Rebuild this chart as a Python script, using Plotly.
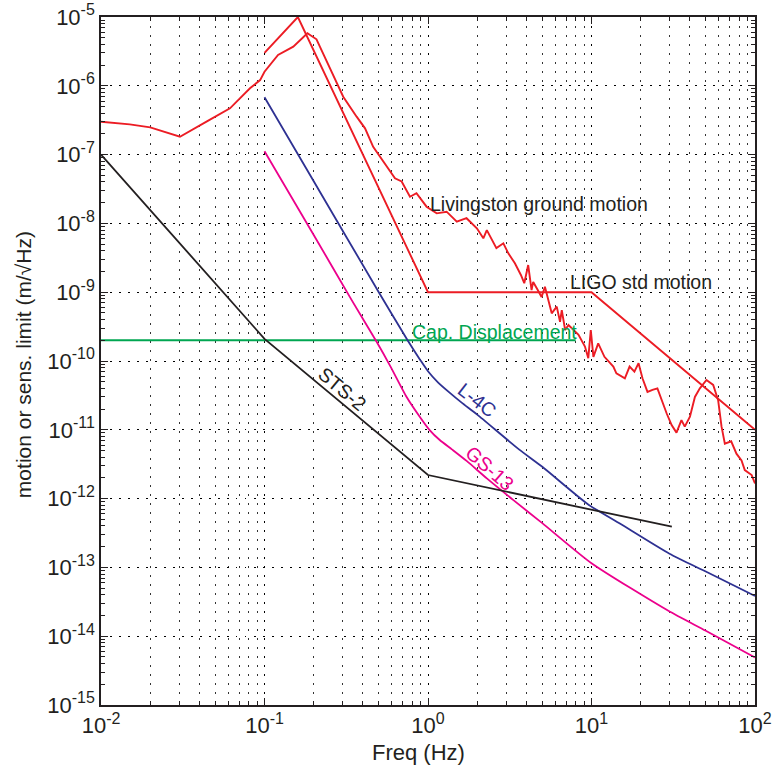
import math
import plotly.graph_objects as go

# ---------------- data ----------------
liv_f = [0.01, 0.015, 0.02, 0.0304, 0.045, 0.0615, 0.0815, 0.094, 0.1, 0.121, 0.150, 0.183,
         0.208, 0.223, 0.252, 0.303, 0.366, 0.412, 0.462, 0.534, 0.628, 0.69, 0.776, 0.85,
         0.98, 1.13, 1.30, 1.50, 1.72, 1.99, 2.18, 2.29, 2.46, 2.62, 2.89, 3.10, 3.40, 3.70,
         3.88, 4.10, 4.30, 4.40, 4.70, 4.95, 5.19, 5.71, 6.13, 6.42, 6.58, 6.90, 7.23, 7.76,
         8.33, 9.12, 9.56, 9.90, 10.27, 10.99, 12.0, 13.6, 14.2, 16.0, 17.1, 18.3, 19.4, 20.5,
         22.0, 23.6, 25.3, 28.8, 30.9, 33.1, 35.5, 37.2, 40.0, 42.9, 46.0, 50.5, 55.5, 59.5,
         62.4, 65.4, 71.5, 77.0, 82.7, 86.6, 95.4, 100.0]
liv_v = [3.0e-7, 2.75e-7, 2.49e-7, 1.82e-7, 3.09e-7, 4.71e-7, 9.2e-7, 1.21e-6, 1.60e-6, 2.81e-6,
         3.70e-6, 5.79e-6, 4.74e-6, 3.31e-6, 1.79e-6, 6.95e-7, 3.56e-7, 2.41e-7, 1.30e-7, 7.89e-8,
         4.52e-8, 4.07e-8, 2.44e-8, 2.74e-8, 1.75e-8, 1.40e-8, 1.48e-8, 1.06e-8, 1.19e-8, 8.5e-9,
         6.07e-9, 8.0e-9, 5.75e-9, 4.37e-9, 5.13e-9, 3.67e-9, 2.63e-9, 1.78e-9, 1.35e-9, 2.48e-9,
         1.07e-9, 1.41e-9, 1.07e-9, 8.5e-10, 1.20e-9, 4.93e-10, 6.17e-10, 3.72e-10, 5.5e-10,
         2.82e-10, 3.33e-10, 2.82e-10, 2.40e-10, 1.62e-10, 1.10e-10, 2.82e-10, 1.15e-10, 1.80e-10,
         1.15e-10, 8.3e-11, 6.6e-11, 5.6e-11, 8.3e-11, 7.0e-11, 9.3e-11, 5.6e-11, 3.55e-11,
         3.8e-11, 4.0e-11, 1.74e-11, 1.17e-11, 9.1e-12, 1.38e-11, 1.11e-11, 1.55e-11, 3.0e-11,
         4.0e-11, 5.3e-11, 4.5e-11, 2.7e-11, 1.12e-11, 6.3e-12, 6.8e-12, 4.5e-12, 3.6e-12,
         2.6e-12, 2.2e-12, 1.66e-12]

ligo_f = [0.1, 0.16, 1.0, 10.0, 100.0]
ligo_v = [3.0e-6, 1.0e-5, 1.0e-9, 1.0e-9, 1.0e-11]

l4c_f = [0.1, 0.2, 0.5, 0.75, 0.9, 1.0, 1.15, 1.35, 1.6, 2.0, 3.6, 5.0, 9.5, 15.0, 30.0, 50.0, 100.0]
l4c_v = [6.8e-7, 4.1e-8, 1.0e-9, 2.0e-10, 1.02e-10, 7.1e-11, 4.9e-11, 3.5e-11, 2.5e-11,
         1.66e-11, 5.2e-12, 2.9e-12, 8.3e-13, 4.3e-13, 1.58e-13, 8.7e-14, 3.85e-14]

gs13_f = [0.1, 0.2, 0.34, 0.485, 0.59, 0.74, 0.89, 1.02, 1.18, 1.4, 1.73, 2.3, 3.33, 5.0, 10.0,
          29.5, 50.0, 100.0]
gs13_v = [1.12e-7, 6.8e-9, 7.8e-10, 1.9e-10, 8.3e-11, 3.0e-11, 1.55e-11, 1.0e-11, 7.1e-12,
          5.2e-12, 3.5e-12, 1.95e-12, 9.5e-13, 4.4e-13, 1.15e-13, 2.34e-14, 1.2e-14, 4.9e-15]

sts2_f = [0.01, 0.1, 1.0, 31.0]
sts2_v = [1.0e-7, 2.1e-10, 2.2e-12, 3.9e-13]

cap_f = [0.01, 8.0]
cap_v = [2.0e-10, 2.0e-10]

x_tickvals = [1e-2, 1e-1, 1e0, 1e1, 1e2]
x_exponents = ["-2", "-1", "0", "1", "2"]
y_tickvals = [1e-15, 1e-14, 1e-13, 1e-12, 1e-11, 1e-10, 1e-9, 1e-8, 1e-7, 1e-6, 1e-5]
y_exponents = ["-15", "-14", "-13", "-12", "-11", "-10", "-9", "-8", "-7", "-6", "-5"]


def power_label(e):
    return "10<sup><span style='font-size:16px'>" + e + "</span></sup>"


x_ticktext = [power_label(e) for e in x_exponents]
y_ticktext = [power_label(e) for e in y_exponents]

# ---------------- styling ----------------
RED = "#ec1c24"
NAVY = "#2e3192"
MAGENTA = "#ec008c"
GREEN = "#00a651"
BLACK = "#231f20"
FONT = "Liberation Sans, Arial, Helvetica, sans-serif"
GRID_DASH = "1.5px,7.5px"

fig = go.Figure()
fig.add_trace(go.Scatter(x=liv_f, y=liv_v, mode="lines", line=dict(color=RED, width=1.9)))
fig.add_trace(go.Scatter(x=ligo_f, y=ligo_v, mode="lines", line=dict(color=RED, width=1.9)))
fig.add_trace(go.Scatter(x=cap_f, y=cap_v, mode="lines", line=dict(color=GREEN, width=1.9)))
fig.add_trace(go.Scatter(x=l4c_f, y=l4c_v, mode="lines",
                         line=dict(color=NAVY, width=1.8, shape="spline", smoothing=0.6)))
fig.add_trace(go.Scatter(x=gs13_f, y=gs13_v, mode="lines",
                         line=dict(color=MAGENTA, width=1.8, shape="spline", smoothing=0.6)))
fig.add_trace(go.Scatter(x=sts2_f, y=sts2_v, mode="lines", line=dict(color=BLACK, width=1.8)))

# minor tick positions (2..9 within each decade)
x_minor = [m * 10 ** d for d in range(-2, 2) for m in range(2, 10)]
y_minor = [m * 10 ** d for d in range(-15, -5) for m in range(2, 10)]

axis_common = dict(
    type="log", automargin=False,
    showline=True, linecolor=BLACK, linewidth=1.5, mirror="ticks",
    ticks="inside", ticklen=7, tickwidth=1, tickcolor=BLACK,
    showgrid=True, gridcolor="#000000", gridwidth=1, griddash=GRID_DASH,
    zeroline=False,
    tickfont=dict(family=FONT, size=22, color=BLACK),
    tickmode="array",
)

fig.update_xaxes(
    **axis_common,
    range=[-2, 2],
    tickvals=x_tickvals, ticktext=x_ticktext,
    minor=dict(tickmode="array", tickvals=x_minor, ticks="inside", ticklen=4,
               tickcolor=BLACK, showgrid=True, gridcolor="#333333", griddash=GRID_DASH,
               gridwidth=1),
)
fig.update_yaxes(
    **axis_common,
    range=[-15, -5],
    tickvals=y_tickvals, ticktext=y_ticktext,
    minor=dict(tickmode="array", tickvals=y_minor, ticks="inside", ticklen=4,
               tickcolor=BLACK, showgrid=False),
)

ann_font = dict(family=FONT, size=19.5, color=BLACK)
annotations = [
    dict(x=math.log10(1.0), y=-7.72, text="Livingston ground motion", xanchor="left",
         yanchor="middle", font=ann_font),
    dict(x=math.log10(7.2), y=-8.85, text="LIGO std motion", xanchor="left",
         yanchor="middle", font=ann_font),
    dict(x=math.log10(0.78), y=-9.58, text="Cap. Displacement", xanchor="left",
         yanchor="middle", font=dict(family=FONT, size=19.5, color=GREEN)),
    dict(x=math.log10(0.30), y=-10.40, text="STS-2", textangle=40, xanchor="center",
         yanchor="middle", font=ann_font),
    dict(x=math.log10(2.0), y=-10.57, text="L-4C", textangle=38, xanchor="center",
         yanchor="middle", font=dict(family=FONT, size=19.5, color=NAVY)),
    dict(x=math.log10(2.39), y=-11.55, text="GS-13", textangle=41, xanchor="center",
         yanchor="middle", font=dict(family=FONT, size=19.5, color=MAGENTA)),
]
for a in annotations:
    a.update(xref="x", yref="y", showarrow=False)

# axis titles placed as paper annotations for exact position
annotations.append(dict(
    text="motion or sens. limit (m/√Hz)", textangle=-90,
    xref="paper", yref="paper", x=0, y=0.494, xshift=-78,
    xanchor="center", yanchor="middle", showarrow=False,
    font=dict(family=FONT, size=21, color=BLACK),
))
annotations.append(dict(
    text="Freq (Hz)",
    xref="paper", yref="paper", x=0.485, y=0, yshift=-47,
    xanchor="center", yanchor="middle", showarrow=False,
    font=dict(family=FONT, size=22, color=BLACK),
))

fig.update_layout(
    width=774, height=767,
    margin=dict(l=101, r=19, t=17, b=62),
    paper_bgcolor="white", plot_bgcolor="white",
    showlegend=False,
    annotations=annotations,
    font=dict(family=FONT, color=BLACK),
)

fig.write_html("out.html", config={"displayModeBar": False},
               post_script="document.body.style.margin='0';document.body.style.padding='0';")
